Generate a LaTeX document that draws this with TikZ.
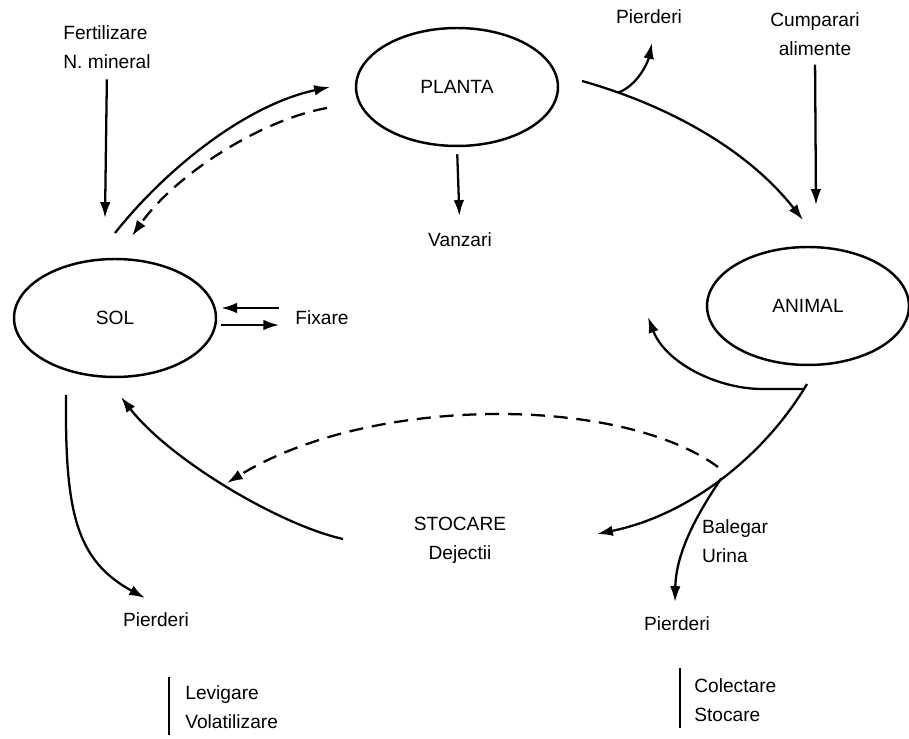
\documentclass[tikz,border=0pt]{standalone}
\usepackage{fontspec}
\setmainfont{Liberation Sans}
\usetikzlibrary{positioning,arrows.meta,shapes.geometric}

\begin{document}
\begin{tikzpicture}[
  x=0.02cm, y=-0.02cm,
  pool/.style={draw, ellipse, line width=1.4pt, inner sep=0pt,
               minimum width=4.04cm, minimum height=2.36cm,
               font=\fontsize{10.9}{16.5}\selectfont},
  txt/.style={inner sep=0pt, font=\fontsize{10.9}{16.5}\selectfont},
  arr/.style={-{Latex[length=9pt,width=6pt]}, line width=1.3pt},
  darr/.style={arr, dash pattern=on 8pt off 5pt},
  ln/.style={line width=1.3pt}
]
\useasboundingbox (0,0) rectangle (909,739);

%% ═══════════════════════════════════════════════
%% Pools
%% ═══════════════════════════════════════════════

\node[pool] (planta) at (457,87)  {PLANTA};
\node[pool] (sol)    at (115,318) {SOL};
\node[pool] (animal) at (808,306) {ANIMAL};

%% ═══════════════════════════════════════════════
%% Labels
%% ═══════════════════════════════════════════════

\node[txt, align=left]   (fert)   at (107,47)  {Fertilizare\\N. mineral};
\node[txt]               (pierdp) at (649,17)  {Pierderi};
\node[txt, align=center] (cump)   at (815,34)  {Cumparari\\alimente};
\node[txt]               (vanz)   at (460,240) {Vanzari};
\node[txt]               (fix)    at (322,318) {Fixare};
\node[txt, align=center] (stoc)   at (460,540) {STOCARE\\Dejectii};
\node[txt, align=left]   (bal)    at (735,541) {Balegar\\Urina};
\node[txt]               (pierds) at (156,620) {Pierderi};
\node[txt]               (pierda) at (677,624) {Pierderi};
\node[txt, align=left, anchor=west] (lev) at (185,707) {Levigare\\Volatilizare};
\node[txt, align=left, anchor=west] (col) at (694,700) {Colectare\\Stocare};

% free ends
\coordinate (s_up)   at (115,233);
\coordinate (p_in)   at (330,87);
\coordinate (p_out)  at (327,108);
\coordinate (s_in)   at (132,236);
\coordinate (p_r)    at (582,81);
\coordinate (a_in)   at (803,220);
\coordinate (a_out)  at (807,384);
\coordinate (a_ret)  at (648,317);
\coordinate (st_in)  at (597,534);
\coordinate (st_out) at (343,539);
\coordinate (s_ret)  at (121,397);
\coordinate (s_dn)   at (66,395);

%% ═══════════════════════════════════════════════
%% Flows
%% ═══════════════════════════════════════════════

% fertilizer, purchases, sales
\draw[arr, shorten <=6pt] (fert.south) -- (105,218);
\draw[arr, shorten <=5pt] (cump.south) -- (816,205);
\draw[arr, shorten <=4pt, shorten >=9.5pt] (planta.south) -- (vanz.north);

% soil <-> plant
\draw[arr]  (s_up) .. controls (165,170) and (245,105) .. (p_in);
\draw[darr] (p_out) .. controls (260,120) and (175,175) .. (s_in);

% fixation
\draw[arr] (sol.east) ++(62,-10) -- ++(-58,0);
\draw[arr] (sol.east) ++(4,7) -- ++(58,0);

% plant -> animal, with losses
\draw[arr] (p_r) .. controls (650,100) and (740,140) .. (a_in)
           coordinate[pos=0.17] (p_j);
\draw[arr] (p_j) .. controls (638,85) and (648,62) .. (652,43);

% animal -> storage, losses, back to animal
\draw[arr] (a_out) .. controls (765,455) and (690,515) .. (st_in)
           coordinate[pos=0.5] (a_j);
\draw[arr] (a_j) .. controls (700,510) and (676,550) .. (675,602);
\draw[arr] (803,389) -- (760,389) .. controls (715,388) and (665,362) .. (a_ret);

% storage -> soil
\draw[darr] (718,467) .. controls (620,395) and (370,395) .. (227,483);
\draw[arr]  (st_out) .. controls (280,525) and (170,460) .. (s_ret);

% soil losses
\draw[arr] (s_dn) .. controls (65,510) and (75,560) .. (145,598);

% side bars
\draw[ln] (lev.west) ++(-16,-30) -- ++(0,58);
\draw[ln] (col.west) ++(-14,-32) -- ++(0,60);

\end{tikzpicture}
\end{document}
